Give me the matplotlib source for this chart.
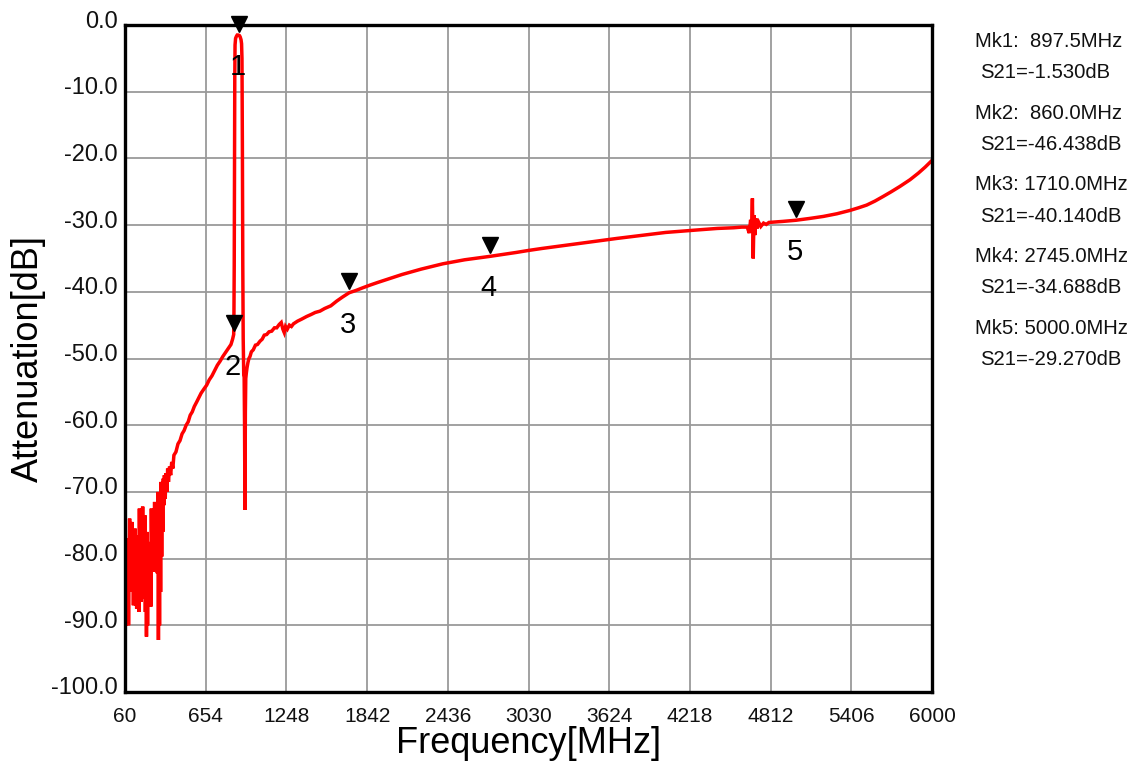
import matplotlib
matplotlib.use("Agg")
import matplotlib.pyplot as plt
from matplotlib.transforms import ScaledTranslation

# ---------------- data ----------------
freq_mhz = [
    60, 63, 66, 70, 74, 78, 82, 86, 90,
    94, 98, 102, 106, 110, 114,
    118, 122, 126, 130, 134, 138,
    142, 146, 150, 154, 158, 162,
    166, 170, 174, 178, 182, 186, 190, 194, 198, 202,
    206, 210, 214, 218, 222, 226,
    230, 234, 238, 242, 246, 250,
    254, 258, 262, 266, 270, 274,
    278, 282, 286, 290, 294, 298,
    302, 306, 310, 314, 318, 322,
    326, 330, 334, 338, 342,
    346, 350, 356, 362, 368, 374,
    380, 388, 396, 404, 412,
    420, 435, 450, 465, 480, 495, 510, 525, 540, 555, 570, 588, 605, 620,
    640, 661, 680, 700, 720, 740, 760, 780, 800, 820, 840, 852, 860,
    862, 864, 866, 868, 870, 874, 880, 886, 892, 897.5, 903, 908, 914, 918,
    921, 924, 927, 930, 934, 937, 940, 943, 946, 949, 953, 958, 965, 972,
    980, 990, 1004, 1020, 1035, 1054, 1070, 1085, 1103, 1120, 1140, 1160,
    1177, 1195, 1210, 1222, 1232, 1242, 1255, 1270, 1285, 1300, 1330, 1360,
    1397, 1430, 1460, 1495, 1530, 1575, 1618, 1660, 1710, 1760, 1810, 1863,
    1920, 1980, 2040, 2100, 2170, 2240, 2320, 2400, 2480, 2560, 2650, 2745,
    2840, 2940, 3030, 3130, 3240, 3350, 3460, 3570, 3680, 3800, 3920, 4040,
    4160, 4290, 4420, 4540, 4600, 4640, 4655, 4665, 4672, 4678, 4684, 4690,
    4696, 4704, 4712, 4725, 4740, 4760, 4780, 4800, 4900, 5000, 5100, 5200,
    5300, 5396, 5460, 5519, 5580, 5641, 5700, 5764, 5838, 5900, 5950, 6000,
]
s21_db = [
    -81, -89, -77, -90, -79, -88, -77, -90, -80,
    -74, -85, -76, -84, -74.5, -83,
    -76, -87, -77, -86, -75.5, -87,
    -77, -87.5, -78, -86, -76.5, -88,
    -72.5, -84, -74, -86.5, -73, -82, -72.2, -85, -75, -86,
    -73.5, -88, -78, -91.7, -76, -90,
    -77.5, -87, -79, -86, -78, -87.2,
    -72.5, -81, -74, -81.7, -73, -80,
    -71.5, -82, -73, -80, -72, -82.2,
    -70, -92.2, -72, -90, -70.5, -85,
    -68.5, -79.7, -69, -76, -68,
    -72, -67.5, -71, -67.2, -70, -66.5,
    -68.5, -66.2, -67.5, -65.5, -66.5,
    -64.5, -64.0, -62.8, -62.3, -61.3, -60.8, -60.0, -59.5, -58.5, -58.0,
    -57.2, -56.5, -55.8, -55.2,
    -54.6, -54.0, -53.2, -52.6, -51.8, -51.0, -50.4, -49.7, -49.1, -48.5,
    -47.9, -47.1, -46.4,
    -43, -36, -22, -8, -3.0, -2.0, -1.7, -1.5, -1.5, -1.53, -1.6, -1.8, -2.2,
    -2.8,
    -5, -18, -36, -47, -52.5, -52.8, -60, -72.7, -58, -53, -52.2, -51.4,
    -50.6, -50.0,
    -49.7, -49.0, -48.7, -48.0, -47.9, -47.4, -47.1, -46.5, -46.4, -46.0,
    -45.9, -45.4,
    -45.4, -44.9, -44.6, -45.6, -46.1, -45.2, -45.6, -45.0, -45.2, -44.8,
    -44.4, -44.1,
    -43.7, -43.4, -43.1, -42.9, -42.5, -42.1, -41.4, -40.8, -40.14, -39.8,
    -39.4, -39.0,
    -38.6, -38.2, -37.8, -37.4, -37.0, -36.6, -36.2, -35.8, -35.5, -35.2,
    -34.95, -34.69,
    -34.4, -34.1, -33.8, -33.5, -33.2, -32.9, -32.6, -32.3, -32.0, -31.7,
    -31.4, -31.1,
    -30.9, -30.7, -30.5, -30.4, -30.3, -30.3, -31.2, -29.2, -30.8, -26.0,
    -35.0, -28.5,
    -31.5, -29.0, -30.5, -29.6, -30.2, -29.7, -29.9, -29.6, -29.45, -29.27,
    -29.0, -28.7,
    -28.3, -27.8, -27.4, -27.0, -26.4, -25.7, -25.0, -24.2, -23.2, -22.2,
    -21.3, -20.3,
]

mk_ids = ["1", "2", "3", "4", "5"]
mk_freq = [897.5, 860.0, 1710.0, 2745.0, 5000.0]
mk_s21 = [-1.530, -46.438, -40.140, -34.688, -29.270]

x_ticks = [60, 654, 1248, 1842, 2436, 3030, 3624, 4218, 4812, 5406, 6000]
y_ticks = [0, -10, -20, -30, -40, -50, -60, -70, -80, -90, -100]

# ---------------- figure ----------------
W, H, DPI = 1137, 764, 100
fig = plt.figure(figsize=(W / DPI, H / DPI), dpi=DPI)
fig.patch.set_facecolor("white")
ax = fig.add_axes([125 / W, 1 - 692 / H, 807 / W, 667 / H])

ax.plot(freq_mhz, s21_db, color="#ff0000", lw=2.5, zorder=3,
        solid_joinstyle="miter")

ax.set_xlim(60, 6000)
ax.set_ylim(-100, 0)
ax.set_xticks(x_ticks)
ax.set_xticklabels([str(t) for t in x_ticks],
                   family="Liberation Sans", fontsize=15)
ax.set_yticks(y_ticks)
ax.set_yticklabels([f"{t:.1f}" for t in y_ticks],
                   family="Liberation Sans", fontsize=17)
ax.tick_params(axis="both", length=0, colors="#111111")
ax.tick_params(axis="x", pad=11)
ax.tick_params(axis="y", pad=5)
up = ScaledTranslation(0, 6 / DPI, fig.dpi_scale_trans)
for lab in ax.get_yticklabels():
    lab.set_transform(lab.get_transform() + up)

ax.grid(True, color="#9a9a9a", lw=1.3)
ax.set_axisbelow(True)
for sp in ax.spines.values():
    sp.set_color("black")
    sp.set_linewidth(2.4)
    sp.set_zorder(5)

ax.set_xlabel("Frequency[MHz]", family="Liberation Sans", fontsize=26,
              labelpad=0)
ax.set_ylabel("Attenuation[dB]", family="Liberation Sans", fontsize=26,
              labelpad=4)

# markers: triangle tip a little above the trace, number below it
ms = 12
tri_off = ScaledTranslation(0, (ms / 2 + 2.2) / 72, fig.dpi_scale_trans)
ax.plot(mk_freq, mk_s21, linestyle="none", marker="v", ms=ms,
        color="black", transform=ax.transData + tri_off, zorder=6,
        clip_on=False)
for mid, f, v in zip(mk_ids, mk_freq, mk_s21):
    ax.annotate(mid, (f, v), xytext=(-1, -23), textcoords="offset points",
                ha="center", va="center", fontsize=21,
                family="Liberation Sans", color="black", zorder=7)

# marker read-out on the right
for i, (f, v) in enumerate(zip(mk_freq, mk_s21)):
    y1 = 41.7 + 71.6 * i
    y2 = 73.0 + 71.6 * i
    fig.text(975 / W, 1 - y1 / H, f"Mk{i + 1}: {f:6.1f}MHz",
             ha="left", va="center", fontsize=14.6, family="Liberation Sans",
             color="#111111")
    fig.text(980 / W, 1 - y2 / H, f"S21={v:.3f}dB",
             ha="left", va="center", fontsize=14.6, family="Liberation Sans",
             color="#111111")

fig.savefig("out.png", dpi=DPI)
